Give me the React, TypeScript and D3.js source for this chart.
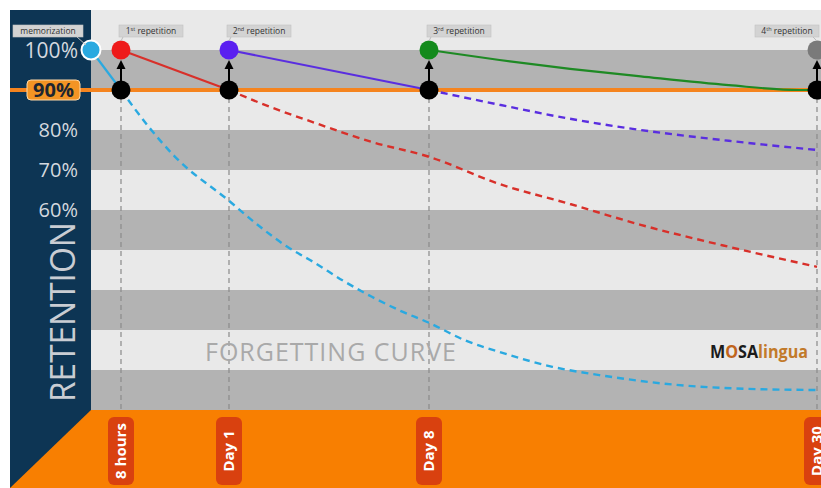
import React from "react";
import * as d3 from "d3";

// ---- data ----
const eventTimes = [0, 1 / 3, 1, 8, 30]; // days
const eventNames = ["memorization", "1", "2", "3", "4"];
const eventSup = ["", "st", "nd", "rd", "th"];
const eventColors = ["#2aa9e0", "#ee1a1a", "#5a1ff0", "#138a1c", "#7a7a7a"];
const tickLabels = ["8 hours", "Day 1", "Day 8", "Day 30"];
const tickTimes = [1 / 3, 1, 8, 30];
const yTickValues = [100, 80, 70, 60];
const threshold = 90;

// solid decay after each review: [time, retention]
const cyanSolid: [number, number][] = [[0, 100], [1 / 3, 90]];
const redSolid: [number, number][] = [[1 / 3, 100], [1, 90]];
const purpleSolid: [number, number][] = [[1, 100], [8, 90]];
const greenSolid: [number, number][] = [[8, 100], [12, 97.5], [16, 95.3], [20, 93.4], [25, 91.2], [29, 90], [30, 90]];

// dashed forgetting curves without review
const cyanDashed: [number, number][] = [
  [1 / 3, 90], [0.5, 81], [0.667, 73.3], [1, 62.3], [2, 56.3], [3, 51], [4, 46.8], [5, 42.3],
  [6, 38.3], [7, 34.8], [8, 31.8], [10, 27.5], [12, 24.5], [15, 20.8], [18, 18.5], [22, 16.3], [26, 15.3], [30, 15],
];
const redDashed: [number, number][] = [
  [1, 90], [2, 87], [4, 81.8], [6, 77], [8, 73.3], [12, 66.5], [16, 61.5], [20, 56.3], [25, 50.8], [30, 45.8],
];
const purpleDashed: [number, number][] = [
  [8, 90], [12, 86.3], [16, 82.8], [20, 80], [25, 77.3], [30, 75],
];

const W = 821;
const H = 488;

export default function App() {
  const left = 91;
  const x = d3.scaleLinear().domain(eventTimes).range([91, 121, 229, 429, 817]);
  const y = d3.scaleLinear().domain([0, 100]).range([450, 50]);
  const plotTop = 10;
  const plotBottom = y(10);

  const line = d3
    .line<[number, number]>()
    .x((d) => x(d[0]))
    .y((d) => y(d[1]))
    .curve(d3.curveMonotoneX);
  const straight = d3.line<[number, number]>().x((d) => x(d[0])).y((d) => y(d[1]));

  const bands = d3.range(10, 110, 10); // band from v to v+10
  const font = "'Open Sans', 'DejaVu Sans', sans-serif";
  const navy = "#0d3554";
  const orange = "#f87f01";

  const dashed = [
    { d: cyanDashed, c: "#2aa9e0" },
    { d: redDashed, c: "#d8302a" },
    { d: purpleDashed, c: "#5a2ee0" },
  ];
  const solids = [
    { d: cyanSolid, c: "#2aa9e0", s: straight },
    { d: redSolid, c: "#d8302a", s: straight },
    { d: purpleSolid, c: "#5a2ee0", s: straight },
    { d: greenSolid, c: "#1e8a24", s: line },
  ];

  return (
    <svg
      width={W}
      height={H}
      style={{ position: "absolute", left: 0, top: 0, background: "#fff" }}
      fontFamily={font}
    >
      {/* plot background stripes */}
      {bands.map((v) => (
        <rect
          key={v}
          x={left}
          y={Math.max(plotTop, y(v + 10))}
          width={W - left}
          height={y(v) - Math.max(plotTop, y(v + 10))}
          fill={(v / 10) % 2 === 1 ? "#b3b3b3" : "#e9e9e9"}
        />
      ))}
      <rect x={left} y={plotTop} width={W - left} height={y(100) - plotTop} fill="#e9e9e9" />

      {/* navy panel */}
      <rect x={10} y={plotTop} width={left - 10} height={H - plotTop} fill={navy} />
      {/* orange bottom band */}
      <polygon points={`${left},${plotBottom} ${W},${plotBottom} ${W},${H} ${10},${H}`} fill={orange} />

      {/* vertical dashed guides */}
      {tickTimes.map((t) => (
        <line
          key={t}
          x1={x(t)}
          x2={x(t)}
          y1={y(threshold) + 8}
          y2={plotBottom}
          stroke="#8a8a8a"
          strokeWidth={1.2}
          strokeDasharray="5 4"
        />
      ))}

      {/* 90% threshold */}
      <line x1={10} x2={W} y1={y(threshold)} y2={y(threshold)} stroke="#f5841f" strokeWidth={4} />

      {/* forgetting curves */}
      {dashed.map((s, i) => (
        <path key={i} d={line(s.d) || ""} fill="none" stroke={s.c} strokeWidth={2.4} strokeDasharray="7 5" />
      ))}
      {solids.map((s, i) => (
        <path key={i} d={s.s(s.d) || ""} fill="none" stroke={s.c} strokeWidth={2.2} />
      ))}

      {/* y labels */}
      {yTickValues.map((v) => (
        <text
          key={v}
          x={78}
          y={y(v)}
          dy="0.36em"
          textAnchor="end"
          fontSize={v === 100 ? 21 : 20}
          fill="#d4d9df"
        >
          {v}%
        </text>
      ))}
      <rect x={27} y={y(threshold) - 10} width={53} height={20} rx={4} fill="#f39424" stroke="#ffd9a8" strokeWidth={1} />
      <text x={53.5} y={y(threshold)} dy="0.36em" textAnchor="middle" fontSize={20} fontWeight="bold" fill="#1d2530">
        {threshold}%
      </text>
      <text
        transform={`translate(75,312) rotate(-90)`}
        textAnchor="middle"
        fontSize={34}
        fill="#c9cdd3"
        textLength={180}
        lengthAdjust="spacingAndGlyphs"
      >
        RETENTION
      </text>

      {/* review markers */}
      {tickTimes.map((t) => (
        <g key={t}>
          <circle cx={x(t)} cy={y(threshold)} r={9.5} fill="#000" />
          <line x1={x(t)} x2={x(t)} y1={y(threshold) - 8} y2={y(100) + 17} stroke="#000" strokeWidth={2} />
          <path
            d={`M${x(t)},${y(100) + 10} L${x(t) - 4.5},${y(100) + 19} L${x(t) + 4.5},${y(100) + 19} Z`}
            fill="#000"
          />
        </g>
      ))}
      {eventTimes.map((t, i) => (
        <circle
          key={t}
          cx={x(t)}
          cy={y(100)}
          r={9.5}
          fill={eventColors[i]}
          stroke={i === 0 ? "#fff" : "none"}
          strokeWidth={2}
        />
      ))}

      {/* event labels */}
      {eventTimes.map((t, i) => {
        const last = i === eventTimes.length - 1;
        const bw = i === 0 ? 70 : 64;
        const bx = i === 0 ? x(t) - 78 : last ? x(t) - 62 : x(t) - 2;
        return (
          <g key={t}>
            <line
              x1={i === 0 ? bx + bw - 6 : last ? x(t) - 4 : bx + 4}
              y1={37}
              x2={i === 0 ? x(t) - 5 : x(t)}
              y2={i === 0 ? 45 : 41}
              stroke="#bbb"
              strokeWidth={1}
            />
            <rect x={bx} y={25} width={bw} height={12} fill="#d3d3d3" stroke="#c2c2c2" strokeWidth={0.6} />
            <text x={bx + bw / 2} y={34} textAnchor="middle" fontSize={8.5} fill="#333">
              {i === 0 ? (
                eventNames[i]
              ) : (
                <>
                  <tspan>{eventNames[i]}</tspan>
                  <tspan fontSize={5.5} dy={-3}>
                    {eventSup[i]}
                  </tspan>
                  <tspan dy={3}> repetition</tspan>
                </>
              )}
            </text>
          </g>
        );
      })}

      {/* x tick labels */}
      {tickTimes.map((t, i) => (
        <g key={t}>
          <rect x={x(t) - 13} y={417} width={26} height={68} rx={6} fill="#d9410f" />
          <text
            transform={`translate(${x(t)},451) rotate(-90)`}
            textAnchor="middle"
            dy="0.36em"
            fontSize={15}
            fontWeight="bold"
            fill="#fff"
          >
            {tickLabels[i]}
          </text>
        </g>
      ))}

      {/* captions */}
      <text x={205} y={352} dy="0.36em" fontSize={25} fill="#a9a9a9" textLength={251}>
        FORGETTING CURVE
      </text>
      <text x={710} y={352} dy="0.36em" fontSize={17} fontWeight="bold" fill="#1b1b1b" textLength={98} lengthAdjust="spacingAndGlyphs">
        <tspan>M</tspan>
        <tspan fill="#c0641c">O</tspan>
        <tspan>SA</tspan>
        <tspan fill="#c27a2a">lingua</tspan>
      </text>
    </svg>
  );
}
